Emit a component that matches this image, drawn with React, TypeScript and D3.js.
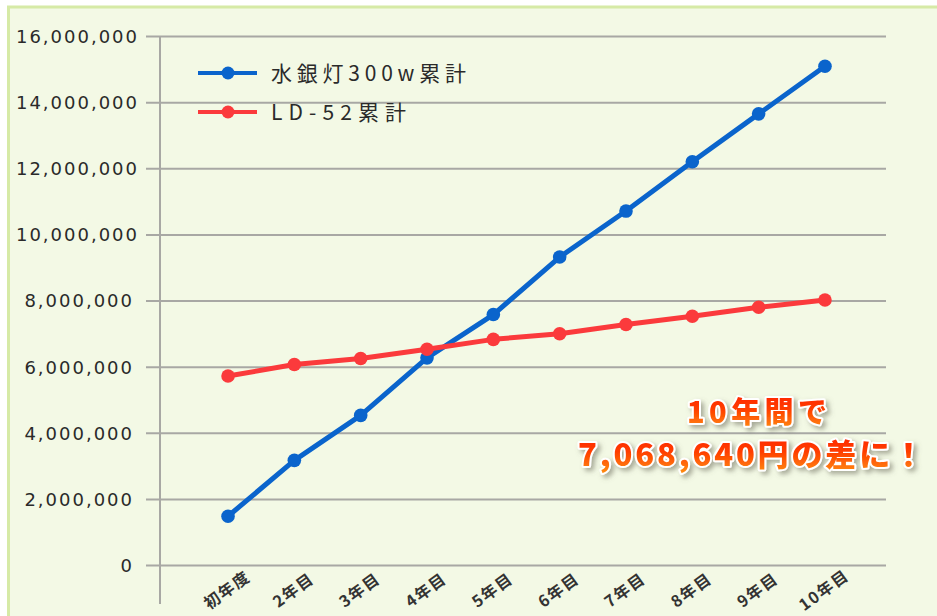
import React from "react";
import * as d3 from "d3";

// Cumulative cost per year (yen)
const categories = ["初年度", "2年目", "3年目", "4年目", "5年目", "6年目", "7年目", "8年目", "9年目", "10年目"];
const mercuryLamp = [1490000, 3180000, 4540000, 6280000, 7590000, 9330000, 10720000, 12210000, 13660000, 15098640];
const ld52 = [5730000, 6080000, 6260000, 6540000, 6840000, 7010000, 7290000, 7540000, 7810000, 8030000];
const yTicks = [0, 2000000, 4000000, 6000000, 8000000, 10000000, 12000000, 14000000, 16000000];

const seriesList = [
  { name: "水銀灯300w累計", values: mercuryLamp, color: "#0a64cc" },
  { name: "LD-52累計", values: ld52, color: "#fb3a3c" },
];

const W = 937;
const H = 616;
const axisX = 160;
const gridLeft = 146;
const gridRight = 886;

export default function App() {
  const x = d3.scalePoint<string>().domain(categories).range([161.7, 891.3]).padding(1);
  const y = d3.scaleLinear().domain([0, 16000000]).range([565.5, 36.5]);
  const fmt = d3.format(",");
  const line = d3
    .line<number>()
    .x((_, i) => x(categories[i]) as number)
    .y((d) => y(d));

  const diff = mercuryLamp[mercuryLamp.length - 1] - ld52[ld52.length - 1];

  return (
    <svg
      width={W}
      height={H}
      style={{ position: "absolute", left: 0, top: 0 }}
      xmlns="http://www.w3.org/2000/svg"
    >
      <defs>
        <linearGradient id="noteFill" x1="0" y1="0" x2="0" y2="1">
          <stop offset="0" stopColor="#ff1a00" />
          <stop offset="0.5" stopColor="#ff4000" />
          <stop offset="1" stopColor="#ff9414" />
        </linearGradient>
        <filter id="noteShadow" x="-10%" y="-30%" width="120%" height="170%">
          <feDropShadow dx="3" dy="3" stdDeviation="2.5" floodColor="#6a6a5a" floodOpacity="0.55" />
        </filter>
      </defs>

      <rect x={0} y={0} width={W} height={H} fill="#ffffff" />
      <rect x={8.5} y={7} width={W + 20} height={H + 20} fill="#f3f9e5" stroke="#d6eaa6" strokeWidth={3} />

      {/* horizontal grid with tick stubs */}
      {yTicks.map((t) => (
        <line key={t} x1={gridLeft} x2={gridRight} y1={y(t)} y2={y(t)} stroke="#a8a8a4" strokeWidth={2} />
      ))}
      <line x1={axisX} x2={axisX} y1={y(16000000)} y2={604} stroke="#a8a8a4" strokeWidth={2} />

      {/* y labels */}
      {yTicks.map((t) => (
        <text
          key={t}
          x={t >= 10000000 ? 139 : 134}
          y={y(t)}
          dy="0.36em"
          textAnchor="end"
          fontFamily="DejaVu Sans"
          fontSize={18}
          letterSpacing={2}
          fill="#2a2a2a"
        >
          {fmt(t)}
        </text>
      ))}

      {/* x labels */}
      {categories.map((c) => (
        <text
          key={c}
          transform={`translate(${(x(c) as number) - 1},${590}) rotate(-36)`}
          textAnchor="middle"
          dy="0.36em"
          fontFamily="Noto Sans CJK JP"
          fontWeight={700}
          fontSize={16}
          letterSpacing={1.5}
          fill="#333"
        >
          {c}
        </text>
      ))}

      {/* series lines and markers */}
      {seriesList.map((s) => (
        <g key={s.name}>
          <path d={line(s.values) ?? ""} fill="none" stroke={s.color} strokeWidth={5} strokeLinejoin="round" />
          {s.values.map((v, i) => (
            <circle key={i} cx={x(categories[i])} cy={y(v)} r={6.8} fill={s.color} />
          ))}
        </g>
      ))}

      {/* legend */}
      {seriesList.map((s, i) => {
        const ly = 73 + i * 39;
        return (
          <g key={s.name}>
            <line x1={198} x2={257} y1={ly} y2={ly} stroke={s.color} strokeWidth={4} />
            <circle cx={228} cy={ly} r={6.5} fill={s.color} />
            <text
              x={271}
              y={ly}
              dy="0.36em"
              fontFamily="Noto Sans CJK JP"
              fontSize={21}
              fill="#2a2a2a"
              textLength={i === 0 ? 195 : 135}
              lengthAdjust="spacing"
            >
              {s.name}
            </text>
          </g>
        );
      })}

      {/* difference note: white outline under a red-to-orange fill, soft shadow */}
      {[
        { text: "10年間で", cx: 757, by: 423, len: 140, size: 29 },
        { text: `${fmt(diff)}円の差に！`, cx: 751, by: 466, len: 346, size: 31 },
      ].map((n) => (
        <text
          key={n.text}
          x={n.cx}
          y={n.by}
          fontFamily="Noto Sans CJK JP"
          fontWeight={900}
          fontSize={n.size}
          textAnchor="middle"
          fill="url(#noteFill)"
          stroke="#fff"
          strokeWidth={4}
          strokeLinejoin="round"
          style={{ paintOrder: "stroke" }}
          filter="url(#noteShadow)"
          textLength={n.len}
          lengthAdjust="spacing"
        >
          {n.text}
        </text>
      ))}
    </svg>
  );
}
